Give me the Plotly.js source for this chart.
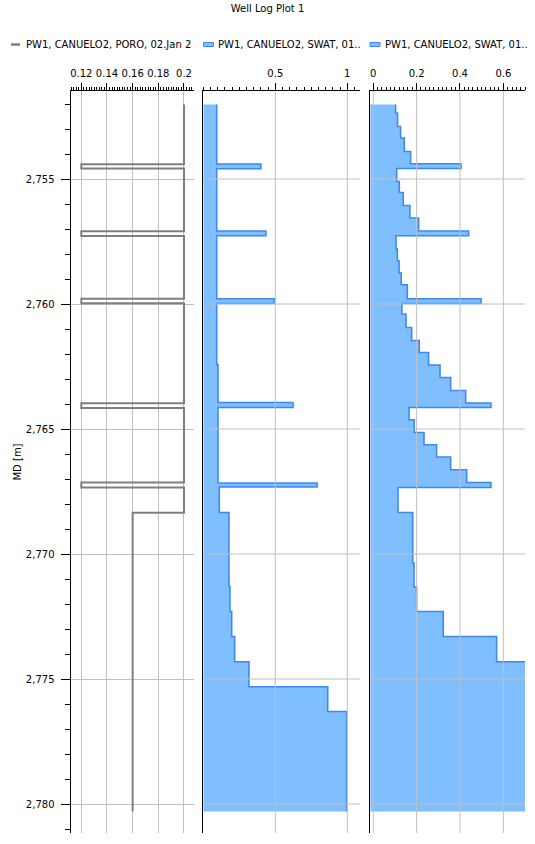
<!DOCTYPE html>
<html>
<head>
<meta charset="utf-8">
<script src="https://cdn.plot.ly/plotly-3.0.1.min.js"></script>
<style>html,body{margin:0;padding:0;background:#fff;}#chart{width:535px;height:844px;}</style>
</head>
<body>
<div id="chart"></div>
<script>
// ---------- data ----------
const logBottom = 2780.30;

// PORO (track 1): interval top depths and values
const poroDepth = [2752.02, 2754.41, 2754.58, 2757.09, 2757.28, 2759.79, 2759.97, 2763.97, 2764.16, 2767.14, 2767.34, 2768.35];
const poroValue = [0.20, 0.12, 0.20, 0.12, 0.20, 0.12, 0.20, 0.12, 0.20, 0.12, 0.20, 0.16];

// SWAT (track 2)
const swat1Depth = [2752.02, 2754.40, 2754.59, 2757.08, 2757.27, 2759.79, 2759.98, 2762.42, 2763.94, 2764.14, 2767.16, 2767.32, 2768.34, 2771.30, 2772.30, 2773.30, 2774.31, 2775.31, 2776.30];
const swat1Value = [0.093, 0.40, 0.093, 0.435, 0.093, 0.493, 0.093, 0.102, 0.623, 0.102, 0.79, 0.111, 0.178, 0.185, 0.197, 0.218, 0.317, 0.864, 0.995];

// SWAT (track 3)
const swat2Depth = [2752.02, 2752.36, 2752.90, 2753.36, 2753.90, 2754.39, 2754.58, 2755.10, 2755.54, 2756.06, 2756.56, 2757.08, 2757.27, 2757.80, 2758.27, 2758.76, 2759.23, 2759.79, 2759.98, 2760.40, 2760.94, 2761.46, 2761.94, 2762.44, 2762.94, 2763.46, 2763.96, 2764.14, 2764.63, 2765.14, 2765.63, 2766.12, 2766.63, 2767.14, 2767.34, 2768.34, 2770.36, 2771.32, 2772.30, 2773.30, 2774.31];
const swat2Value = [0.103, 0.112, 0.126, 0.143, 0.172, 0.405, 0.108, 0.120, 0.138, 0.169, 0.209, 0.44, 0.105, 0.111, 0.119, 0.129, 0.157, 0.497, 0.132, 0.151, 0.177, 0.212, 0.255, 0.308, 0.357, 0.426, 0.543, 0.165, 0.189, 0.234, 0.292, 0.357, 0.431, 0.543, 0.114, 0.182, 0.188, 0.200, 0.323, 0.569, 0.86];

// tick labels
const depthTicks = [2755, 2760, 2765, 2770, 2775, 2780];
const poroTicks = [0.12, 0.14, 0.16, 0.18, 0.2];
const swat1Ticks = [0.5, 1];
const swat2Ticks = [0, 0.2, 0.4, 0.6];

const seriesNames = ['PW1, CANUELO2, PORO, 02.Jan 2', 'PW1, CANUELO2, SWAT, 01..', 'PW1, CANUELO2, SWAT, 01..'];

// ---------- helpers ----------
function stepX(vals) { return vals.concat([vals[vals.length - 1]]); }
function stepY(deps) { return deps.concat([logBottom]); }

const GRID = '#c0c0c0';
const FILL = 'rgb(128,191,255)';
const LINE = 'rgb(62,136,242)';
const PORO_COLOR = '#7f7f7f';
const FONT = 'DejaVu Sans';

const W = 535, H = 844, MT = 91, MB = 11;
const px2x = function (p) { return p / W; };
const px2y = function (p) { return (H - MB - p) / (H - MT - MB); };

const traces = [
  {
    x: stepX(poroValue), y: stepY(poroDepth), xaxis: 'x', yaxis: 'y',
    type: 'scatter', mode: 'lines', name: seriesNames[0], showlegend: false,
    line: {color: PORO_COLOR, width: 2, shape: 'vh'}, hoverinfo: 'skip'
  },
  {
    x: stepX(swat1Value), y: stepY(swat1Depth), xaxis: 'x2', yaxis: 'y2',
    type: 'scatter', mode: 'lines', name: seriesNames[1], showlegend: false,
    fill: 'tozerox', fillcolor: FILL,
    line: {color: LINE, width: 1.6, shape: 'vh'}, hoverinfo: 'skip'
  },
  {
    // baseline at the left edge of track 3 so the fill reaches the axis line
    x: [-1, -1], y: [swat2Depth[0], logBottom], xaxis: 'x3', yaxis: 'y3',
    type: 'scatter', mode: 'lines', line: {width: 0}, showlegend: false, hoverinfo: 'skip'
  },
  {
    x: stepX(swat2Value), y: stepY(swat2Depth), xaxis: 'x3', yaxis: 'y3',
    type: 'scatter', mode: 'lines', name: seriesNames[2], showlegend: false,
    fill: 'tonextx', fillcolor: FILL,
    line: {color: LINE, width: 1.6, shape: 'vh'}, hoverinfo: 'skip'
  }
];

function topAxis(domain, range, anchor, tickvals, minorDtick, grid) {
  return {
    domain: domain, range: range, anchor: anchor, side: 'top',
    tickmode: 'array', tickvals: tickvals,
    ticks: 'outside', ticklen: 7, tickcolor: '#000', tickwidth: 1,
    ticklabelstandoff: 2,
    showline: true, linecolor: '#000', linewidth: 1,
    showgrid: grid, gridcolor: GRID, gridwidth: 1, zeroline: false,
    tickfont: {family: FONT, size: 10, color: '#000'},
    minor: {tickmode: 'linear', tick0: 0, dtick: minorDtick, ticks: 'outside', ticklen: 3, tickcolor: '#000', tickwidth: 1, showgrid: false},
    fixedrange: true
  };
}

const yRange = [2781.16, 2751.48];

const layout = {
  width: W, height: H,
  margin: {l: 0, r: 0, t: MT, b: MB, pad: 0},
  paper_bgcolor: '#fff', plot_bgcolor: 'rgba(0,0,0,0)',
  font: {family: FONT, size: 10, color: '#000'},
  title: {text: 'Well Log Plot 1', x: 0.5, xanchor: 'center', xref: 'paper', y: 1 - 8 / H, yref: 'container', yanchor: 'middle', font: {family: FONT, size: 10, color: '#000'}},
  showlegend: false,
  xaxis: topAxis([px2x(70.5), px2x(194)], [0.11159, 0.2078], 'y', poroTicks, 0.002, true),
  xaxis2: topAxis([px2x(203.3), px2x(360)], [0, 1.0882], 'y2', swat1Ticks, 0.05, false),
  xaxis3: topAxis([px2x(370.3), px2x(525)], [-0.0138, 0.7], 'y3', swat2Ticks, 0.02, false),
  yaxis: {
    domain: [0, 1], range: yRange, anchor: 'x',
    tickmode: 'array', tickvals: depthTicks, tickformat: ',',
    ticks: 'outside', ticklen: 9, tickcolor: '#000', tickwidth: 1, ticklabelstandoff: 4,
    showline: true, linecolor: '#000', linewidth: 1,
    showgrid: true, gridcolor: GRID, gridwidth: 1, zeroline: false,
    tickfont: {family: FONT, size: 10, color: '#000'},
    minor: {tickmode: 'linear', tick0: 0, dtick: 1, ticks: 'outside', ticklen: 5, tickcolor: '#000', tickwidth: 1, showgrid: false},
    title: {text: 'MD [m]', standoff: 2, font: {family: FONT, size: 10, color: '#000'}},
    fixedrange: true
  },
  yaxis2: {domain: [0, 1], matches: 'y', anchor: 'x2', showline: true, linecolor: '#000', linewidth: 1, ticks: '', showticklabels: false, showgrid: false, zeroline: false, fixedrange: true},
  yaxis3: {domain: [0, 1], matches: 'y', anchor: 'x3', showline: true, linecolor: '#000', linewidth: 1, ticks: '', showticklabels: false, showgrid: false, zeroline: false, fixedrange: true},
  shapes: [],
  annotations: []
};

// grid lines drawn above the filled curves in tracks 2 and 3
[['x2', 'y2', swat1Ticks], ['x3', 'y3', swat2Ticks]].forEach(function (t) {
  t[2].forEach(function (v) {
    layout.shapes.push({type: 'line', layer: 'above', xref: t[0], yref: t[1] + ' domain', x0: v, x1: v, y0: 0, y1: 1, line: {color: GRID, width: 1}});
  });
  depthTicks.forEach(function (d) {
    layout.shapes.push({type: 'line', layer: 'above', xref: t[0] + ' domain', yref: t[1], x0: 0, x1: 1, y0: d, y1: d, line: {color: GRID, width: 1}});
  });
});

// legend row (compact symbols as in the reference)
const legendY = px2y(44.5);
const legendItems = [
  {sym: 'line', x0: 11, x1: 20, textX: 24, name: seriesNames[0]},
  {sym: 'rect', x0: 203.5, x1: 213.5, textX: 216, name: seriesNames[1]},
  {sym: 'rect', x0: 370, x1: 380, textX: 382.5, name: seriesNames[2]}
];
legendItems.forEach(function (it) {
  if (it.sym === 'line') {
    layout.shapes.push({type: 'line', xref: 'paper', yref: 'paper', x0: px2x(it.x0), x1: px2x(it.x1), y0: legendY, y1: legendY, line: {color: PORO_COLOR, width: 2.5}});
  } else {
    layout.shapes.push({type: 'rect', xref: 'paper', yref: 'paper', x0: px2x(it.x0), x1: px2x(it.x1), y0: px2y(46.5), y1: px2y(42.5), fillcolor: FILL, line: {color: LINE, width: 1}});
  }
  layout.annotations.push({xref: 'paper', yref: 'paper', x: px2x(it.textX), y: legendY, xanchor: 'left', yanchor: 'middle', showarrow: false, text: it.name, font: {family: FONT, size: 10, color: '#000'}});
});

Plotly.newPlot('chart', traces, layout, {displayModeBar: false, staticPlot: true});
</script>
</body>
</html>
